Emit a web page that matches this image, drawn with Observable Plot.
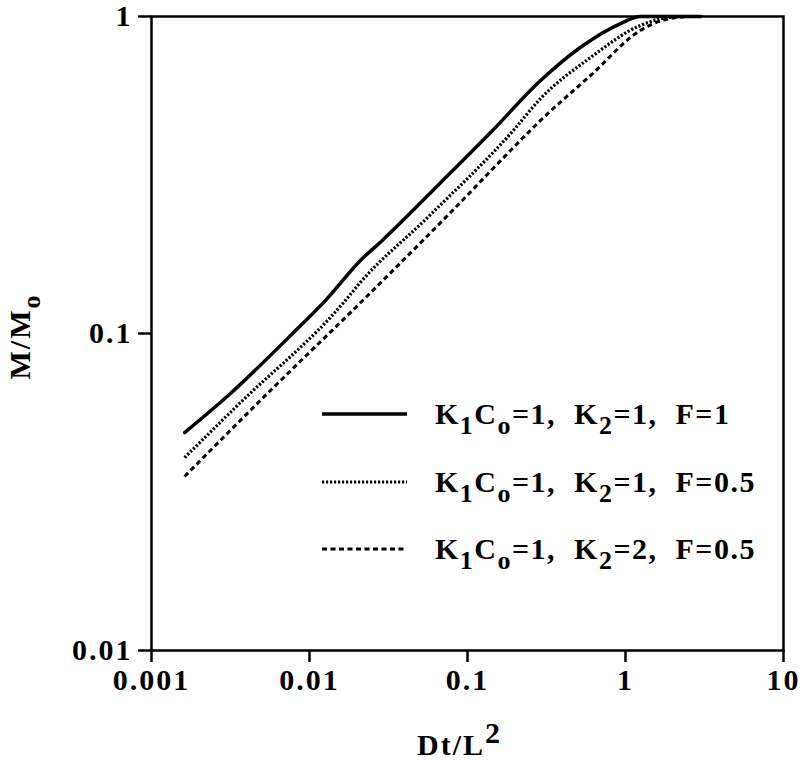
<!DOCTYPE html>
<html>
<head>
<meta charset="utf-8">
<script src="https://cdn.jsdelivr.net/npm/d3@7"></script>
<script src="https://cdn.jsdelivr.net/npm/@observablehq/plot@0.6"></script>
<style>
  html, body { margin: 0; padding: 0; background: #fff; }
  #wrap { position: relative; width: 803px; height: 760px; font-family: "Liberation Serif", "DejaVu Serif", serif; font-weight: bold; color: #000; }
  #wrap svg { display: block; }
  #wrap svg text { letter-spacing: 2px; }
  .lab { position: absolute; font-size: 30px; letter-spacing: 2px; white-space: nowrap; line-height: 1; }
  .lab sub { font-size: 26px; vertical-align: -10px; line-height: 0; letter-spacing: 1px; }
  .lab sup { font-size: 30px; vertical-align: 12px; line-height: 0; }
  .legrow { position: absolute; left: 322px; height: 40px; display: flex; align-items: center; white-space: nowrap; }
  .legrow .txt { margin-left: 28px; font-size: 30px; letter-spacing: 1.5px; line-height: 1; }
  .legrow .txt sub { font-size: 26px; vertical-align: -10px; line-height: 0; }
</style>
</head>
<body>
<div id="wrap"></div>
<script>
// ---- data ----
const xTicks = [0.001, 0.01, 0.1, 1, 10];
const yTicks = [0.01, 0.1, 1];

const seriesLabels = [
  "K<sub>1</sub>C<sub>o</sub>=1,&nbsp; K<sub>2</sub>=1,&nbsp; F=1",
  "K<sub>1</sub>C<sub>o</sub>=1,&nbsp; K<sub>2</sub>=1,&nbsp; F=0.5",
  "K<sub>1</sub>C<sub>o</sub>=1,&nbsp; K<sub>2</sub>=2,&nbsp; F=0.5"
];

// Series 1: K1Co=1, K2=1, F=1 (solid)
const s1X = [0.00162, 0.00316, 0.00793, 0.0126, 0.021, 0.029, 0.0675, 0.144, 0.29, 0.52, 0.93, 1.24, 3.0];
const s1Y = [0.0487, 0.0647, 0.1007, 0.127, 0.170, 0.197, 0.299, 0.437, 0.628, 0.80, 0.95, 1.0, 1.0];

// Series 2: K1Co=1, K2=1, F=0.5 (dotted)
const s2X = [0.00162, 0.0035, 0.0164, 0.021, 0.0558, 0.195, 0.29, 0.60, 1.24, 2.23, 3.0];
const s2Y = [0.0406, 0.0593, 0.125, 0.145, 0.232, 0.437, 0.551, 0.742, 0.937, 1.0, 1.0];

// Series 3: K1Co=1, K2=2, F=0.5 (dashed)
const s3X = [0.00162, 0.00566, 0.021, 0.0726, 0.25, 0.29, 0.60, 1.24, 1.79, 2.58, 3.0];
const s3Y = [0.0354, 0.0661, 0.125, 0.232, 0.437, 0.47, 0.651, 0.903, 0.978, 1.0, 1.0];

const lineStyles = [
  {strokeWidth: 3.5, dash: null},
  {strokeWidth: 3.2, dash: "2.2,1.8"},
  {strokeWidth: 3, dash: "5,3.5"}
];

const toRows = (xs, ys) => xs.map((x, i) => ({x, y: ys[i]}));
const series = [toRows(s1X, s1Y), toRows(s2X, s2Y), toRows(s3X, s3Y)];

const fontStyle = {fontFamily: "'Liberation Serif', serif", fontWeight: "bold", fontSize: "30px", color: "#000", background: "#fff", overflow: "visible"};

const chart = Plot.plot({
  width: 803,
  height: 760,
  marginLeft: 151,
  marginRight: 20,
  marginTop: 16,
  marginBottom: 110,
  style: fontStyle,
  x: {type: "log", domain: [0.001, 10]},
  y: {type: "log", domain: [0.01, 1]},
  marks: [
    ...series.map((d, i) => Plot.line(d, {
      x: "x", y: "y", stroke: "#000",
      strokeWidth: lineStyles[i].strokeWidth,
      strokeDasharray: lineStyles[i].dash,
      strokeLinecap: lineStyles[i].dash ? "butt" : "round",
      curve: "monotone-x"
    })),
    Plot.frame({stroke: "#000", strokeWidth: 2.5}),
    Plot.axisX({ticks: xTicks, tickFormat: d => String(d), tickSize: 12, tickPadding: 6, strokeWidth: 2.5, fontSize: 30, fontWeight: "bold", label: null}),
    Plot.axisY({ticks: yTicks, tickFormat: d => String(d), tickSize: 13, tickPadding: 6, strokeWidth: 2.5, fontSize: 30, fontWeight: "bold", label: null})
  ]
});

const wrap = document.getElementById("wrap");
wrap.appendChild(chart);

// axis titles
const xl = document.createElement("div");
xl.className = "lab";
xl.innerHTML = "Dt/L<sup>2</sup>";
xl.style.left = "417px";
xl.style.top = "730px";
wrap.appendChild(xl);

const yl = document.createElement("div");
yl.className = "lab";
yl.innerHTML = "M/M<sub>o</sub>";
yl.style.left = "-22px";
yl.style.top = "322px";
yl.style.transform = "rotate(-90deg)";
yl.style.transformOrigin = "center center";
wrap.appendChild(yl);

// legend
const legendY = [414, 482, 549];
seriesLabels.forEach((lab, i) => {
  const row = document.createElement("div");
  row.className = "legrow";
  row.style.top = (legendY[i] - 20) + "px";
  const ls = lineStyles[i];
  row.innerHTML = `<svg width="85" height="10"><line x1="0" x2="85" y1="5" y2="5" stroke="#000" stroke-width="${ls.strokeWidth}" ${ls.dash ? `stroke-dasharray="${ls.dash}"` : ""}/></svg><span class="txt">${lab}</span>`;
  wrap.appendChild(row);
});
</script>
</body>
</html>
